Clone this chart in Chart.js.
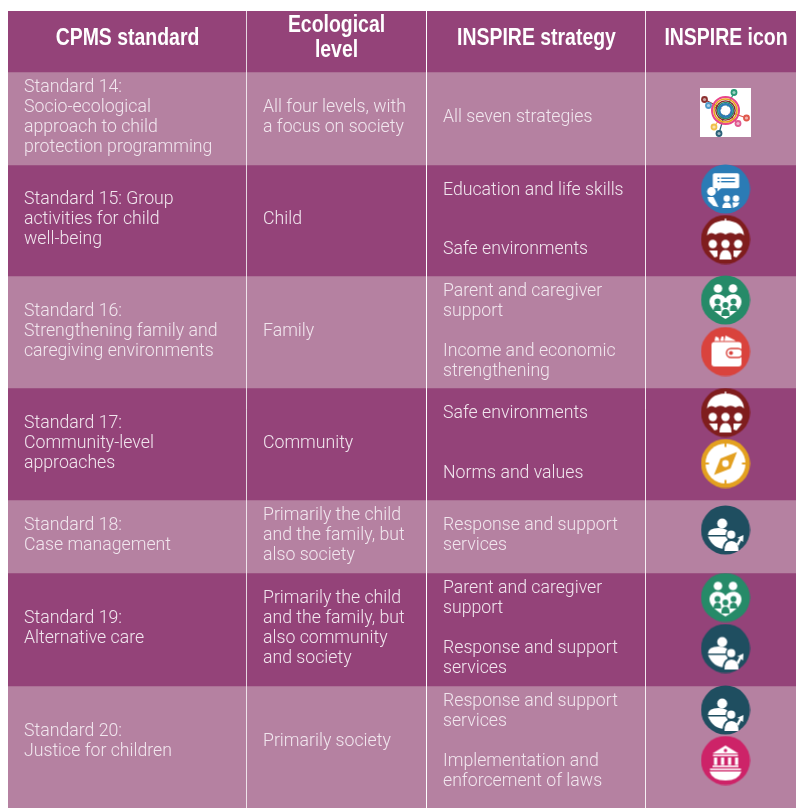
<!DOCTYPE html>
<html>
<head>
<meta charset="utf-8">
<script src="https://cdn.jsdelivr.net/npm/chart.js@4"></script>
<style>
  html, body { margin: 0; padding: 0; background: #fff; }
  canvas { display: block; }
</style>
</head>
<body>
<canvas id="table" width="796" height="808"></canvas>
<script>
// ── Table content ────────────────────────────────────────────────────────────
const headers = [['CPMS standard'], ['Ecological', 'level'], ['INSPIRE strategy'], ['INSPIRE icon']];

const standards = [
  ['Standard 14:', 'Socio-ecological', 'approach to child', 'protection programming'],
  ['Standard 15: Group', 'activities for child', 'well-being'],
  ['Standard 16:', 'Strengthening family and', 'caregiving environments'],
  ['Standard 17:', 'Community-level', 'approaches'],
  ['Standard 18:', 'Case management'],
  ['Standard 19:', 'Alternative care'],
  ['Standard 20:', 'Justice for children'],
];

const levels = [
  ['All four levels, with', 'a focus on society'],
  ['Child'],
  ['Family'],
  ['Community'],
  ['Primarily the child', 'and the family, but', 'also society'],
  ['Primarily the child', 'and the family, but', 'also community', 'and society'],
  ['Primarily society'],
];

const strategies = [
  [['All seven strategies']],
  [['Education and life skills'], ['Safe environments']],
  [['Parent and caregiver', 'support'], ['Income and economic', 'strengthening']],
  [['Safe environments'], ['Norms and values']],
  [['Response and support', 'services']],
  [['Parent and caregiver', 'support'], ['Response and support', 'services']],
  [['Response and support', 'services'], ['Implementation and', 'enforcement of laws']],
];

const icons = [
  ['all'],
  ['education', 'safe'],
  ['parent', 'income'],
  ['safe', 'norms'],
  ['response'],
  ['parent', 'response'],
  ['response', 'laws'],
];

// ── Layout (reference pixels, separate from the content) ─────────────────────
const rowHeights = [61, 93, 111, 112, 112, 73, 113, 122];
const tableLeft = 8;
const tableRight = 796;
const tableTop = 11;
const tableBottom = 808;
const columnLines = [246.5, 426.5, 645.5];
const columnLineColors = ['rgba(255,255,255,0.4)', 'rgba(255,255,255,0.95)', 'rgba(255,255,255,0.5)'];
const headerCenters = [127.5, 336.5, 536.5, 726];
const textLefts = [24, 263, 443];
const rowTextY = [118, 220, 332, 444, 536, 629, 742];
const strategyY = [[118], [191, 250], [302, 362], [414, 474], [536], [599, 659], [712, 772]];
const iconX = 725.5;
const iconY = [[112.5], [189, 239.5], [300, 351.5], [412.5, 463.5], [530], [597.5, 648.5], [710, 760.5]];

const COLORS = {
  dark: '#944379',
  light: '#b581a1',
  text: '#f1e6ee',
};
const BODY_FONT = '300 17.7px Roboto, "Liberation Sans", sans-serif';
const HEAD_FONT = 'bold 24px "Liberation Sans", sans-serif';
const HEAD_SQUEEZE = 0.81;

// ── Icon glyphs, drawn once and handed to the points as pointStyle ───────────
function disc(color) {
  const c = document.createElement('canvas');
  c.width = c.height = 50;
  const g = c.getContext('2d');
  g.translate(25, 25);
  g.fillStyle = color;
  g.beginPath(); g.arc(0, 0, 24.5, 0, Math.PI * 2); g.fill();
  g.save();
  g.beginPath(); g.arc(0, 0, 24.5, 0, Math.PI * 2); g.clip();
  g.fillStyle = '#fff';
  return { c, g, color };
}
const dot = (g, x, y, r) => { g.beginPath(); g.arc(x, y, r, 0, Math.PI * 2); g.fill(); };
const poly = (g, pts) => {
  g.beginPath();
  pts.forEach((p, i) => (i === 0 ? g.moveTo(p[0], p[1]) : g.lineTo(p[0], p[1])));
  g.closePath(); g.fill();
};
const shoulders = (g, x, y, w, h) => {
  g.beginPath();
  g.moveTo(x - w, y + h);
  g.quadraticCurveTo(x - w, y, x, y);
  g.quadraticCurveTo(x + w, y, x + w, y + h);
  g.closePath(); g.fill();
};

const iconPainters = {
  all() {
    const c = document.createElement('canvas');
    c.width = 51; c.height = 49;
    const g = c.getContext('2d');
    g.fillStyle = '#fff'; g.fillRect(0, 0, 51, 49);
    const cx = 25.5, cy = 22.5;
    const spokes = [
      [34, 4.5, '#2a9a78'], [4.5, 11.5, '#8c3030'], [8.5, 17.5, '#4f9ccb'], [46.5, 30, '#e0574c'],
      [38, 35.5, '#df5a90'], [14, 39, '#f0c04a'], [19, 45.5, '#2a6078'],
    ];
    spokes.forEach(([x, y, col]) => {
      g.strokeStyle = col; g.lineWidth = 1.2;
      g.beginPath(); g.moveTo(cx, cy); g.lineTo(x, y); g.stroke();
      g.fillStyle = col; dot(g, x, y, 3.4);
      g.fillStyle = 'rgba(255,255,255,0.55)'; dot(g, x, y, 1.6);
    });
    [[13.5, '#e8458a', 2], [11.5, '#e9a21f', 1.6], [9.6, '#8a2a2a', 1.4], [8, '#2a8a6c', 1.6], [6.2, '#2b7bb5', 2.4]].forEach(([r, col, w]) => {
      g.strokeStyle = col; g.lineWidth = w;
      g.beginPath(); g.arc(cx, cy, r, 0, Math.PI * 2); g.stroke();
    });
    g.fillStyle = '#fff'; dot(g, cx, cy, 4.6);
    return c;
  },
  education() {
    const { c, g, color } = disc('#2b7bb5');
    g.beginPath(); g.roundRect(-12.7, -15.7, 26.4, 15, 1.8); g.fill();
    poly(g, [[-8, -2], [-8, 2.5], [-3, -2]]);
    g.fillStyle = color;
    g.fillRect(-8, -11.5, 2, 1.4); g.fillRect(-4.5, -11.5, 14, 1.4);
    g.fillRect(-8, -8, 2, 1.4); g.fillRect(-4.5, -8, 14, 1.4);
    g.fillStyle = '#fff';
    dot(g, -14, 2.5, 4.4);
    poly(g, [[-18, 8], [-12, 8], [-7, 18], [-12, 17], [-17, 12]]);
    dot(g, 1.3, 9.5, 3.2); dot(g, 10.5, 9.5, 3.2);
    shoulders(g, 1.3, 13.5, 4.5, 5.5);
    poly(g, [[7, 13.5], [14, 13.5], [12, 17], [7.5, 19]]);
    return c;
  },
  safe() {
    const { c, g } = disc('#7f1d1d');
    g.fillRect(-0.7, -21, 1.4, 3);
    g.beginPath();
    g.moveTo(-18.5, -4);
    g.quadraticCurveTo(-17, -18.5, 0, -19);
    g.quadraticCurveTo(17, -18.5, 18.5, -4);
    g.quadraticCurveTo(15, -8.5, 10, -5);
    g.quadraticCurveTo(5, -8.5, 0, -5);
    g.quadraticCurveTo(-5, -8.5, -10, -5);
    g.quadraticCurveTo(-15, -8.5, -18.5, -4);
    g.fill();
    dot(g, -12.7, 4.5, 4.2); dot(g, 0, 4.5, 4.2); dot(g, 12.7, 4.5, 4.2);
    shoulders(g, 0, 10.5, 6, 9.5);
    poly(g, [[-16.5, 11], [-8, 11], [-8, 17], [-11, 18]]);
    poly(g, [[16.5, 11], [8, 11], [8, 17], [11, 18]]);
    return c;
  },
  parent() {
    const { c, g, color } = disc('#268a68');
    dot(g, -7.5, -11.5, 4.3); dot(g, 7.5, -11.5, 4.3);
    g.beginPath();
    g.moveTo(0, -1.5);
    g.bezierCurveTo(-4, -8, -16, -7, -16, 2);
    g.bezierCurveTo(-16, 9, -6, 15, 0, 19);
    g.bezierCurveTo(6, 15, 16, 9, 16, 2);
    g.bezierCurveTo(16, -7, 4, -8, 0, -1.5);
    g.fill();
    g.fillStyle = color;
    dot(g, -8, 1.5, 2.9); dot(g, 8, 1.5, 2.9); dot(g, 0, 5, 2.9);
    shoulders(g, -8, 5, 4, 6); shoulders(g, 8, 5, 4, 6);
    g.fillStyle = '#fff';
    g.fillRect(-4.4, 8, 8.8, 8);
    g.fillStyle = color;
    shoulders(g, 0, 9, 4.2, 7);
    return c;
  },
  income() {
    const { c, g, color } = disc('#d9433d');
    poly(g, [[-11, -10.5], [-10, -15], [-7, -14], [-6, -10.5]]);
    poly(g, [[-5.5, -10.5], [-4, -15], [-2, -15], [-1.5, -10.5]]);
    poly(g, [[-1, -10.5], [0, -16], [9, -11.5], [10, -10.5]]);
    g.beginPath(); g.roundRect(-14, -9.5, 30, 24.5, 3); g.fill();
    g.strokeStyle = color; g.lineWidth = 1.4;
    g.beginPath(); g.roundRect(1, -3, 16, 9, 4.5); g.stroke();
    g.fillStyle = color; dot(g, 5.5, 1.5, 2);
    return c;
  },
  norms() {
    const { c, g, color } = disc('#e3a020');
    dot(g, 0, 0, 20);
    g.fillStyle = color;
    g.fillRect(-1, -24, 2, 7.5); g.fillRect(-1, 16.5, 2, 7.5);
    g.fillRect(-24, -1, 7.5, 2); g.fillRect(16.5, -1, 7.5, 2);
    poly(g, [[11.5, -11.5], [5, 5], [-11.5, 11.5], [-5, -5]]);
    g.fillStyle = '#fff'; dot(g, 0, 0, 3.4);
    return c;
  },
  response() {
    const { c, g, color } = disc('#1f4e60');
    dot(g, -3.3, -6.5, 5);
    shoulders(g, -7, -2, 10.5, 7);
    g.beginPath();
    g.moveTo(-17.5, 6.5); g.lineTo(2, 6.5); g.lineTo(2, 19);
    g.quadraticCurveTo(-12, 20, -17.5, 6.5);
    g.fill();
    g.fillStyle = color; dot(g, 5.7, 4.7, 5.6); shoulders(g, 6, 9.5, 9, 12);
    g.fillStyle = '#fff';
    dot(g, 5.7, 4.7, 4.1);
    shoulders(g, 6, 11, 7, 10);
    poly(g, [[11, 14], [14, 8.5], [11.5, 8], [18, 5], [17.5, 12], [15.5, 10.5], [13, 16]]);
    return c;
  },
  laws() {
    const { c, g, color } = disc('#cd2368');
    poly(g, [[0, -15], [13, -7], [-13, -7]]);
    g.fillRect(-12.5, -6, 25, 1.6);
    g.fillStyle = color; dot(g, 0, -10, 1.7);
    g.fillStyle = '#fff';
    [-11.5, -4.5, 2.5, 9.5].forEach((x) => g.fillRect(x, -3, 3.2, 7.5));
    g.fillRect(-13, 5, 26, 1.6);
    g.fillRect(-15.5, 8, 31, 1.6);
    g.beginPath();
    g.moveTo(-16, 11); g.lineTo(16, 11);
    g.quadraticCurveTo(13, 20, 0, 20);
    g.quadraticCurveTo(-13, 20, -16, 11);
    g.fill();
    return c;
  },
};
const iconImages = {};
Object.keys(iconPainters).forEach((k) => { iconImages[k] = iconPainters[k](); });

// ── Datasets ─────────────────────────────────────────────────────────────────
// one stacked bar per table row, as wide as the table
const rowDatasets = rowHeights.map((h, i) => ({
  type: 'bar',
  stack: 'rows',
  data: [{ x: (tableLeft + tableRight) / 2, y: h }],
  backgroundColor: i % 2 === 0 ? COLORS.dark : COLORS.light,
  barThickness: tableRight - tableLeft,
  xAxisID: 'x',
  yAxisID: 'y',
  order: 3,
}));

const lineDatasets = columnLines.map((x, i) => ({
  type: 'scatter',
  showLine: true,
  data: [{ x, y: tableTop }, { x, y: tableBottom }],
  borderColor: columnLineColors[i],
  borderWidth: 1,
  pointRadius: 0,
  xAxisID: 'x',
  yAxisID: 'yPos',
  order: 2,
}));

const iconPoints = [];
const iconStyles = [];
icons.forEach((row, r) => row.forEach((name, j) => {
  iconPoints.push({ x: iconX, y: iconY[r][j] });
  iconStyles.push(iconImages[name]);
}));
const iconDataset = {
  type: 'scatter',
  data: iconPoints,
  pointStyle: iconStyles,
  pointRadius: 25,
  xAxisID: 'x',
  yAxisID: 'yPos',
  order: 1,
};

// ── Cell text, placed through the scales ─────────────────────────────────────
const cellText = {
  id: 'cellText',
  afterDatasetsDraw(chart) {
    const { ctx, scales: { x: xScale, yPos } } = chart;
    const block = (lines, x, midY, step, squeeze = 1) => {
      lines.forEach((t, i) => {
        const y = midY + (i - (lines.length - 1) / 2) * step;
        ctx.save();
        ctx.translate(xScale.getPixelForValue(x), yPos.getPixelForValue(y));
        ctx.scale(squeeze, 1);
        ctx.fillText(t, 0, 0);
        ctx.restore();
      });
    };
    ctx.save();
    ctx.textBaseline = 'middle';

    ctx.fillStyle = '#fff';
    ctx.font = HEAD_FONT;
    ctx.textAlign = 'center';
    headers.forEach((lines, i) => block(lines, headerCenters[i], 38, 25, HEAD_SQUEEZE));

    ctx.fillStyle = COLORS.text;
    ctx.font = BODY_FONT;
    ctx.textAlign = 'left';
    standards.forEach((lines, r) => block(lines, textLefts[0], rowTextY[r], 20));
    levels.forEach((lines, r) => block(lines, textLefts[1], rowTextY[r], 20));
    strategies.forEach((slots, r) => slots.forEach((lines, j) => block(lines, textLefts[2], strategyY[r][j], 20)));
    ctx.restore();
  },
};

new Chart(document.getElementById('table'), {
  data: { datasets: [...rowDatasets, ...lineDatasets, iconDataset] },
  plugins: [cellText],
  options: {
    responsive: false,
    animation: false,
    events: [],
    layout: { autoPadding: false, padding: { left: tableLeft, top: tableTop } },
    plugins: { legend: { display: false }, tooltip: { enabled: false }, title: { display: false } },
    scales: {
      x: { type: 'linear', offset: false, min: tableLeft, max: tableRight, display: false },
      y: { type: 'linear', stacked: true, reverse: true, min: 0, max: tableBottom - tableTop, display: false },
      yPos: { type: 'linear', min: tableTop, max: tableBottom, reverse: true, display: false },
    },
  },
});
</script>
</body>
</html>
